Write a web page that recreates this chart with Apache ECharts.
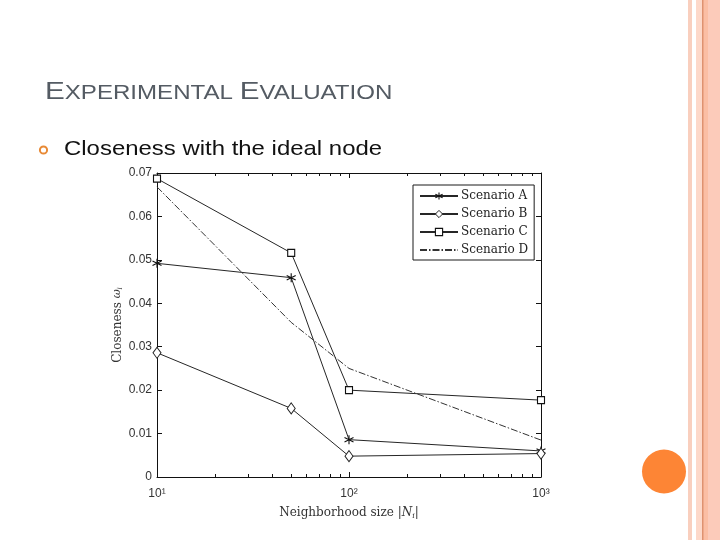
<!DOCTYPE html>
<html>
<head>
<meta charset="utf-8">
<title>Experimental Evaluation</title>
<script src="https://cdn.jsdelivr.net/npm/echarts@6/dist/echarts.min.js"></script>
<style>
  html, body { margin: 0; padding: 0; background: #fff; }
  #chart { width: 720px; height: 540px; }
</style>
</head>
<body>
<div id="chart"></div>
<script>
// neighborhood sizes (x, log axis)
var sizes = [10, 50, 100, 1000];
// closeness values
var scenarioA = [0.0492, 0.0459, 0.0086, 0.0060];
var scenarioB = [0.0286, 0.0158, 0.0048, 0.0054];
var scenarioC = [0.0687, 0.0516, 0.0200, 0.0177];
var scenarioD = [0.0668, 0.0356, 0.0250, 0.0085];
var seriesNames = ['Scenario A', 'Scenario B', 'Scenario C', 'Scenario D'];
// log minor tick positions (matlab style)
var minorTicks = [20, 30, 40, 50, 60, 70, 80, 90, 200, 300, 400, 500, 600, 700, 800, 900];
var supDigits = { 1: '¹', 2: '²', 3: '³' };

var asterisk = 'path://M5,0L5,10M0.7,2.5L9.3,7.5M0.7,7.5L9.3,2.5';
var lineCol = '#262626';
var serif = 'DejaVu Serif';
var sans = 'Liberation Sans';

function pairs(vals) {
    return sizes.map(function (s, i) { return [s, vals[i]]; });
}
var minorLog = minorTicks.map(function (v) { return Math.log10(v); });

var myChart = echarts.init(document.getElementById('chart'));

var tickLine = { lineStyle: { color: '#111', width: 1 } };
var styleA = { color: 'rgba(0,0,0,0)', borderColor: '#111', borderWidth: 1.1 };
var styleB = { color: '#fff', borderColor: '#222', borderWidth: 1 };
var styleC = { color: '#fff', borderColor: '#111', borderWidth: 1.1 };
var styleHidden = { color: 'rgba(0,0,0,0)', borderColor: 'rgba(0,0,0,0)', borderWidth: 0 };

myChart.setOption({
    backgroundColor: '#fff',
    animation: false,
    grid: { left: 157, right: 179, top: 173, bottom: 63, containLabel: false },
    legend: {
        orient: 'vertical',
        left: 413, top: 185,
        padding: [5, 6, 4, 6],
        itemGap: 6,
        itemWidth: 38, itemHeight: 9,
        borderColor: '#1a1a1a', borderWidth: 1,
        backgroundColor: '#fff',
        textStyle: { fontFamily: serif, fontSize: 12, color: '#222', padding: [0, 0, 0, -2] },
        data: [
            { name: seriesNames[0], itemStyle: styleA },
            { name: seriesNames[1], itemStyle: styleB },
            { name: seriesNames[2], itemStyle: styleC },
            { name: seriesNames[3], itemStyle: styleHidden }
        ]
    },
    xAxis: [
        {
            type: 'log', logBase: 10, min: 10, max: 1000, position: 'bottom',
            axisLine: tickLine,
            axisTick: { inside: true, length: 5, lineStyle: { color: '#111' } },
            splitLine: { show: false },
            axisLabel: {
                margin: 11, fontFamily: sans, fontSize: 12, color: '#333',
                formatter: function (v) {
                    return '10' + supDigits[Math.round(Math.log10(v))];
                }
            },
            name: '{t|Neighborhood size |}{n|N}{i|i}{t||}',
            nameLocation: 'middle', nameGap: 29,
            nameTextStyle: {
                rich: {
                    t: { fontFamily: serif, fontSize: 12, color: '#333' },
                    n: { fontFamily: serif, fontSize: 12, color: '#333', fontStyle: 'italic' },
                    i: { fontFamily: serif, fontSize: 8, color: '#333', fontStyle: 'italic', verticalAlign: 'bottom', padding: [6, 0, 0, 0] }
                }
            }
        },
        {
            // minor ticks bottom
            type: 'value', min: 1, max: 3, position: 'bottom',
            axisLine: { show: false },
            axisTick: { inside: true, length: 3, customValues: minorLog, lineStyle: { color: '#111' } },
            axisLabel: { show: false }, splitLine: { show: false }
        },
        {
            type: 'log', logBase: 10, min: 10, max: 1000, position: 'top',
            axisLine: tickLine,
            axisTick: { inside: true, length: 5, lineStyle: { color: '#111' } },
            axisLabel: { show: false }, splitLine: { show: false }
        },
        {
            // minor ticks top
            type: 'value', min: 1, max: 3, position: 'top',
            axisLine: { show: false },
            axisTick: { inside: true, length: 3, customValues: minorLog, lineStyle: { color: '#111' } },
            axisLabel: { show: false }, splitLine: { show: false }
        }
    ],
    yAxis: [
        {
            type: 'value', min: 0, max: 0.07, interval: 0.01, position: 'left',
            axisLine: tickLine,
            axisTick: { inside: true, length: 5, lineStyle: { color: '#111' } },
            splitLine: { show: false },
            axisLabel: {
                margin: 5, fontFamily: sans, fontSize: 12, color: '#333',
                formatter: function (v) { return v === 0 ? '0' : v.toFixed(2); }
            },
            name: '{t|Closeness }{w|ω}{i|i}',
            nameLocation: 'middle', nameGap: 33, nameMoveOverlap: false,
            nameTextStyle: {
                rich: {
                    t: { fontFamily: serif, fontSize: 12, color: '#333' },
                    w: { fontFamily: serif, fontSize: 11, color: '#333', fontStyle: 'italic' },
                    i: { fontFamily: serif, fontSize: 7, color: '#333', fontStyle: 'italic', verticalAlign: 'bottom', padding: [6, 0, 0, 0] }
                }
            }
        },
        {
            type: 'value', min: 0, max: 0.07, interval: 0.01, position: 'right',
            axisLine: tickLine,
            axisTick: { inside: true, length: 5, lineStyle: { color: '#111' } },
            axisLabel: { show: false }, splitLine: { show: false }
        }
    ],
    series: [
        {
            name: seriesNames[0], type: 'line', data: pairs(scenarioA),
            symbol: asterisk, symbolSize: 9, color: lineCol,
            lineStyle: { color: lineCol, width: 1 },
            itemStyle: styleA
        },
        {
            name: seriesNames[1], type: 'line', data: pairs(scenarioB),
            symbol: 'diamond', symbolSize: [8, 11], color: lineCol,
            lineStyle: { color: lineCol, width: 1 },
            itemStyle: styleB
        },
        {
            name: seriesNames[2], type: 'line', data: pairs(scenarioC),
            symbol: 'rect', symbolSize: 7, color: lineCol,
            lineStyle: { color: lineCol, width: 1 },
            itemStyle: styleC
        },
        {
            name: seriesNames[3], type: 'line', data: pairs(scenarioD),
            symbol: 'none', showSymbol: false, color: lineCol,
            lineStyle: { color: '#333', width: 1, type: [7, 2, 1.5, 2] }
        }
    ],
    graphic: [
        // slide decoration on the right
        { type: 'rect', shape: { x: 688, y: 0, width: 4, height: 540 }, style: { fill: '#f9cfbe' }, silent: true },
        { type: 'rect', shape: { x: 696, y: 0, width: 24, height: 540 }, style: { fill: '#fccbba' }, silent: true },
        { type: 'rect', shape: { x: 696, y: 0, width: 6, height: 540 }, style: { fill: '#fdd8c9' }, silent: true },
        { type: 'rect', shape: { x: 703, y: 0, width: 5, height: 540 }, style: { fill: '#fbbea4' }, silent: true },
        { type: 'rect', shape: { x: 702, y: 0, width: 1.5, height: 540 }, style: { fill: '#df9270' }, silent: true },
        { type: 'circle', shape: { cx: 664, cy: 471.5, r: 22 }, style: { fill: '#fd8535' }, silent: true },
        // slide title
        {
            type: 'text', left: 45, top: 80, scaleX: 1.235,
            style: {
                text: '{b|E}{s|XPERIMENTAL }{b|E}{s|VALUATION}',
                rich: {
                    b: { fontFamily: sans, fontSize: 24, fill: '#545b63', lineHeight: 26, verticalAlign: 'bottom' },
                    s: { fontFamily: sans, fontSize: 19.5, fill: '#545b63', lineHeight: 26, verticalAlign: 'bottom' }
                }
            }
        },
        // bullet
        { type: 'circle', shape: { cx: 43.5, cy: 150, r: 3.6 }, style: { fill: 'none', stroke: '#e88a36', lineWidth: 2 } },
        {
            type: 'text', left: 64, top: 139, scaleX: 1.14,
            style: { text: 'Closeness with the ideal node', fontFamily: sans, fontSize: 21, fill: '#111' }
        }
    ]
});
</script>
</body>
</html>
